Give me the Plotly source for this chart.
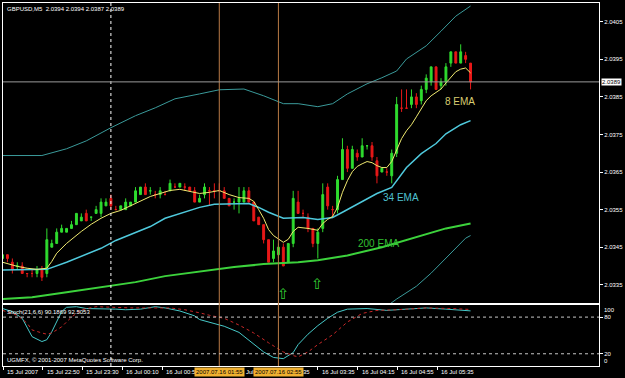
import plotly.graph_objects as go

# ---------------- data ----------------
bars = list(range(96))
open_ = [2.0342, 2.0343, 2.0341, 2.0340, 2.0340, 2.0338, 2.0338, 2.0338, 2.0339, 2.0338,
         2.0345, 2.0346, 2.0349, 2.0349, 2.0350, 2.0351, 2.0352, 2.0354, 2.0353, 2.0354,
         2.0354, 2.0356, 2.0358, 2.0355, 2.0355, 2.0355, 2.0356, 2.0357, 2.0359, 2.0361,
         2.0360, 2.0359, 2.0359, 2.0359, 2.0360, 2.0361, 2.0361, 2.0361, 2.0361, 2.0360,
         2.0357, 2.0359, 2.0360, 2.0360, 2.0360, 2.0360, 2.0358, 2.0357, 2.0357, 2.0357,
         2.0360, 2.0357, 2.0353, 2.0351, 2.0347, 2.0342, 2.0343, 2.0345, 2.0341, 2.0346,
         2.0357, 2.0354, 2.0353, 2.0350, 2.0346, 2.0350, 2.0361, 2.0355, 2.0355, 2.0363,
         2.0371, 2.0366, 2.0370, 2.0369, 2.0372, 2.0372, 2.0368, 2.0365, 2.0365, 2.0364,
         2.0370, 2.0382, 2.0382, 2.0383, 2.0385, 2.0384, 2.0387, 2.0389, 2.0393, 2.0388,
         2.0389, 2.0394, 2.0397, 2.0394, 2.0396, 2.0394]
high = [2.0344, 2.0343, 2.0342, 2.0341, 2.0341, 2.0338, 2.0339, 2.0340, 2.0340, 2.0350,
        2.0347, 2.0350, 2.0351, 2.0350, 2.0352, 2.0354, 2.0354, 2.0355, 2.0353, 2.0356,
        2.0358, 2.0358, 2.0359, 2.0356, 2.0356, 2.0358, 2.0357, 2.0361, 2.0361, 2.0362,
        2.0361, 2.0360, 2.0361, 2.0360, 2.0363, 2.0362, 2.0362, 2.0362, 2.0361, 2.0361,
        2.0359, 2.0362, 2.0361, 2.0362, 2.0362, 2.0361, 2.0358, 2.0358, 2.0361, 2.0361,
        2.0361, 2.0357, 2.0353, 2.0351, 2.0347, 2.0347, 2.0346, 2.0346, 2.0346, 2.0360,
        2.0360, 2.0355, 2.0354, 2.0350, 2.0350, 2.0362, 2.0362, 2.0356, 2.0364, 2.0374,
        2.0372, 2.0372, 2.0371, 2.0374, 2.0372, 2.0373, 2.0369, 2.0366, 2.0366, 2.0371,
        2.0385, 2.0387, 2.0387, 2.0387, 2.0386, 2.0388, 2.0391, 2.0393, 2.0393, 2.0390,
        2.0394, 2.0397, 2.0397, 2.0399, 2.0397, 2.0394]
low = [2.0341, 2.0341, 2.0338, 2.0339, 2.0338, 2.0337, 2.0337, 2.0337, 2.0336, 2.0337,
       2.0345, 2.0346, 2.0349, 2.0349, 2.0350, 2.0351, 2.0352, 2.0352, 2.0352, 2.0354,
       2.0353, 2.0356, 2.0355, 2.0355, 2.0355, 2.0355, 2.0356, 2.0357, 2.0359, 2.0359,
       2.0359, 2.0358, 2.0358, 2.0359, 2.0360, 2.0361, 2.0361, 2.0360, 2.0360, 2.0357,
       2.0357, 2.0358, 2.0356, 2.0358, 2.0360, 2.0358, 2.0356, 2.0355, 2.0354, 2.0357,
       2.0357, 2.0352, 2.0351, 2.0346, 2.0341, 2.0341, 2.0342, 2.0340, 2.0341, 2.0345,
       2.0354, 2.0353, 2.0349, 2.0345, 2.0342, 2.0349, 2.0355, 2.0353, 2.0354, 2.0363,
       2.0365, 2.0366, 2.0368, 2.0369, 2.0371, 2.0368, 2.0362, 2.0365, 2.0364, 2.0362,
       2.0369, 2.0381, 2.0382, 2.0382, 2.0382, 2.0383, 2.0386, 2.0388, 2.0387, 2.0387,
       2.0388, 2.0393, 2.0394, 2.0394, 2.0394, 2.0387]
close = [2.0343, 2.0342, 2.0339, 2.0340, 2.0338, 2.0338, 2.0338, 2.0339, 2.0337, 2.0347,
         2.0346, 2.0349, 2.0350, 2.0350, 2.0351, 2.0354, 2.0353, 2.0352, 2.0353, 2.0355,
         2.0357, 2.0357, 2.0356, 2.0355, 2.0356, 2.0357, 2.0357, 2.0360, 2.0361, 2.0359,
         2.0360, 2.0359, 2.0360, 2.0359, 2.0362, 2.0361, 2.0362, 2.0361, 2.0360, 2.0357,
         2.0358, 2.0361, 2.0360, 2.0360, 2.0360, 2.0358, 2.0356, 2.0357, 2.0358, 2.0360,
         2.0357, 2.0352, 2.0351, 2.0347, 2.0341, 2.0344, 2.0345, 2.0340, 2.0346, 2.0358,
         2.0354, 2.0354, 2.0350, 2.0346, 2.0349, 2.0359, 2.0356, 2.0355, 2.0363, 2.0371,
         2.0366, 2.0371, 2.0369, 2.0372, 2.0372, 2.0369, 2.0364, 2.0366, 2.0365, 2.0370,
         2.0383, 2.0382, 2.0382, 2.0385, 2.0383, 2.0387, 2.0390, 2.0393, 2.0387, 2.0389,
         2.0393, 2.0397, 2.0394, 2.0397, 2.0395, 2.0389]

ema8_x = [0, 3, 5, 7, 9, 10, 11, 13, 16, 18, 20, 22, 24, 26, 28, 30, 32, 34, 36, 38,
          40, 42, 44, 46, 48, 50, 51, 52, 53, 54, 55, 57, 58, 59, 60, 62, 64, 65, 66, 67,
          68, 69, 70, 71, 72, 73, 74, 75, 76, 77, 78, 79, 80, 81, 82, 83, 84, 85, 86, 87,
          88, 89, 90, 91, 92, 93, 94, 95]
ema8 = [2.03410, 2.03399, 2.03394, 2.03391, 2.03394, 2.03412, 2.03434, 2.03460, 2.03492, 2.03511,
        2.03527, 2.03540, 2.03548, 2.03561, 2.03574, 2.03585, 2.03593, 2.03601, 2.03604, 2.03598,
        2.03593, 2.03596, 2.03601, 2.03590, 2.03582, 2.03580, 2.03572, 2.03550, 2.03527, 2.03497,
        2.03481, 2.03463, 2.03471, 2.03492, 2.03503, 2.03500, 2.03495, 2.03513, 2.03524, 2.03532,
        2.03556, 2.03596, 2.03627, 2.03651, 2.03665, 2.03672, 2.03678, 2.03675, 2.03667, 2.03662,
        2.03662, 2.03678, 2.03707, 2.03739, 2.03760, 2.03776, 2.03797, 2.03818, 2.03840, 2.03853,
        2.03861, 2.03871, 2.03887, 2.03903, 2.03917, 2.03924, 2.03927, 2.03914]

ema34_x = [0, 4, 8, 9, 13, 16, 20, 23, 27, 30, 33, 37, 40, 43, 47, 50, 52, 54, 57, 59,
           61, 64, 67, 69, 72, 74, 76, 79, 80, 82, 85, 88, 90, 93, 95]
ema34 = [2.03389, 2.03389, 2.03389, 2.03391, 2.03410, 2.03426, 2.03447, 2.03468, 2.03489, 2.03505,
         2.03527, 2.03543, 2.03556, 2.03564, 2.03564, 2.03566, 2.03556, 2.03543, 2.03527, 2.03527,
         2.03529, 2.03524, 2.03529, 2.03543, 2.03564, 2.03580, 2.03593, 2.03609, 2.03627, 2.03662,
         2.03699, 2.03726, 2.03752, 2.03776, 2.03787]

ema200_x = [0, 6, 13, 20, 27, 33, 40, 47, 53, 60, 64, 70, 77, 84, 90, 95]
ema200 = [2.03312, 2.03317, 2.03330, 2.03344, 2.03357, 2.03373, 2.03386, 2.03397, 2.03405, 2.03410,
          2.03415, 2.03428, 2.03450, 2.03476, 2.03500, 2.03513]

bb_up_x = [0, 8, 13, 17, 22, 27, 31, 35, 40, 44, 49, 53, 57, 60, 64, 67, 70, 74, 77, 80,
           82, 86, 89, 92, 95]
bb_up = [2.03694, 2.03694, 2.03712, 2.03733, 2.03768, 2.03800, 2.03821, 2.03845, 2.03858, 2.03869,
         2.03871, 2.03853, 2.03832, 2.03832, 2.03824, 2.03832, 2.03858, 2.03885, 2.03901, 2.03919,
         2.03951, 2.03986, 2.04025, 2.04065, 2.04092]
bb_lo_x = [76, 78, 80, 84, 87, 90, 94, 95]
bb_lo = [2.03269, 2.03293, 2.03312, 2.03346, 2.03381, 2.03420, 2.03474, 2.03481]

stoch_x = [0, 2, 4, 5, 6, 8, 9, 10, 11, 12, 13, 15, 17, 20, 23, 25, 28, 31, 33, 36,
           39, 40, 42, 45, 48, 51, 53, 55, 57, 59, 60, 62, 64, 66, 68, 70, 74, 78, 82, 86,
           90, 95]
stoch_main = [94, 89, 78, 62, 48, 40, 43, 56, 72, 89, 96, 97, 94, 94, 93, 92, 93, 97, 95, 90,
              82, 76, 72, 65, 55, 35, 23, 14, 12, 22, 35, 52, 66, 78, 88, 93, 94, 91, 93, 95,
              93, 90.1869]
signal_x = [0, 3, 5, 6, 8, 9, 10, 12, 14, 16, 19, 22, 26, 30, 34, 37, 39, 40, 42, 45,
            48, 51, 54, 57, 59, 60, 62, 64, 67, 70, 73, 76, 80, 86, 91, 95]
stoch_signal = [91, 83, 70, 59, 54, 52, 54, 64, 80, 92, 97, 96, 95, 95, 95, 92, 89, 87, 83, 78,
                67, 54, 38, 23, 17, 15, 23, 35, 51, 72, 86, 91, 92, 95, 94, 92.5053]

time_pos = [0.15, 8.2, 16.2, 24.3, 32.4, 64.0, 72.1, 80.1, 88.2]
time_labels = ["15 Jul 2007", "15 Jul 22:50", "15 Jul 23:30", "16 Jul 00:10", "16 Jul 00:50",
               "16 Jul 03:35", "16 Jul 04:15", "16 Jul 04:55", "16 Jul 05:35"]
# fragments of the time labels that peek out from behind the highlighted boxes
frag_pos = [50.3, 61.7]
frag_labels = ["Jul", "35"]
price_ticks = [2.0335, 2.0345, 2.0355, 2.0365, 2.0375, 2.0385, 2.0395, 2.0405]
vline_pos = [44, 56]
vline_labels = ["2007.07.16 01:55", "2007.07.16 02:55"]
separator_pos = 22
arrow_x = [57, 64]
arrow_y = [2.03325, 2.03353]

# ---------------- figure ----------------
FONT = "Liberation Sans"
fig = go.Figure()
fig.add_trace(go.Scatter(x=bb_up_x, y=bb_up, mode="lines", line=dict(color="#3a9a9a", width=1),
                         showlegend=False, hoverinfo="skip"))
fig.add_trace(go.Scatter(x=bb_lo_x, y=bb_lo, mode="lines", line=dict(color="#3a9a9a", width=1),
                         showlegend=False, hoverinfo="skip"))
fig.add_trace(go.Scatter(x=ema200_x, y=ema200, mode="lines", line=dict(color="#3cd23c", width=2),
                         showlegend=False))
fig.add_trace(go.Scatter(x=ema34_x, y=ema34, mode="lines", line=dict(color="#4fc9dc", width=1.5),
                         showlegend=False))
fig.add_trace(go.Candlestick(
    x=bars, open=open_, high=high, low=low, close=close,
    increasing=dict(line=dict(color="#2fdc2f", width=1), fillcolor="#2fdc2f"),
    decreasing=dict(line=dict(color="#e81818", width=1), fillcolor="#e81818"),
    whiskerwidth=0, showlegend=False))
fig.add_trace(go.Scatter(x=ema8_x, y=ema8, mode="lines", line=dict(color="#f0ea70", width=1),
                         showlegend=False))
fig.add_trace(go.Scatter(x=stoch_x, y=stoch_main, mode="lines", line=dict(color="#46c8c8", width=1),
                         xaxis="x2", yaxis="y2", showlegend=False))
fig.add_trace(go.Scatter(x=signal_x, y=stoch_signal, mode="lines",
                         line=dict(color="#c82828", width=1, dash="dot"),
                         xaxis="x2", yaxis="y2", showlegend=False))

xr = [0.1, 121.07]
axis_common = dict(showgrid=False, zeroline=False, showline=True, mirror=True,
                   linecolor="#ffffff", linewidth=1)
fig.update_layout(
    width=625, height=378,
    margin=dict(l=2, r=23, t=2, b=12),
    paper_bgcolor="#000000", plot_bgcolor="#000000",
    boxgap=0.45,
    font=dict(family=FONT, color="#ffffff", size=6),
    xaxis=dict(domain=[0, 1], range=xr, anchor="y", showticklabels=False, ticks="",
               rangeslider=dict(visible=False), **axis_common),
    yaxis=dict(domain=[0.17308, 1], range=[2.03301, 2.04100], side="right", anchor="x",
               tickvals=price_ticks, tickformat=".4f", ticks="outside", ticklen=3,
               tickcolor="#ffffff", tickfont=dict(size=6, color="#ffffff", family=FONT),
               **axis_common),
    xaxis2=dict(domain=[0, 1], range=xr, anchor="y2", matches="x", showticklabels=False,
                tickvals=time_pos, ticks="outside", ticklen=3, tickcolor="#ffffff",
                **axis_common),
    yaxis2=dict(domain=[0, 0.1684], range=[0, 100], side="right", anchor="x2",
                tickvals=[20, 80], ticktext=["20", "80"], ticks="outside", ticklen=3,
                tickcolor="#ffffff", tickfont=dict(size=6, color="#ffffff", family=FONT),
                **axis_common),
)

shapes = []
shapes.append(dict(type="line", xref="x", yref="paper", x0=separator_pos, x1=separator_pos,
                   y0=0, y1=1, line=dict(color="#ffffff", width=1, dash="dot")))
for v in vline_pos:
    shapes.append(dict(type="line", xref="x", yref="paper", x0=v, x1=v, y0=0, y1=1,
                       line=dict(color="#b97a45", width=1)))
shapes.append(dict(type="line", xref="paper", yref="y", x0=0, x1=1, y0=close[-1], y1=close[-1],
                   line=dict(color="#9a9a9a", width=1)))
for lv in [20, 80]:
    shapes.append(dict(type="line", xref="paper", yref="y2", x0=0, x1=1, y0=lv, y1=lv,
                       line=dict(color="#c8c8c8", width=1, dash="dot")))
fig.update_layout(shapes=shapes)

ann = []
ann.append(dict(text="GBPUSD,M5  2.0394 2.0394 2.0387 2.0389", xref="paper", yref="paper",
                x=0, y=1, xanchor="left", yanchor="top", xshift=2, yshift=-1,
                showarrow=False, font=dict(size=6, color="#ffffff")))
ann.append(dict(text="Stoch(21,6,6) %.4f %.4f" % (stoch_main[-1], stoch_signal[-1]),
                xref="paper", yref="y2", x=0, y=100, xanchor="left", yanchor="top",
                xshift=2, yshift=-2, showarrow=False, font=dict(size=6, color="#ffffff")))
ann.append(dict(text="UGMFX, © 2001-2007 MetaQuotes Software Corp.", xref="paper", yref="paper",
                x=0, y=0, xanchor="left", yanchor="bottom", xshift=2, yshift=1,
                showarrow=False, font=dict(size=6, color="#ffffff")))
for p, t in zip(time_pos, time_labels):
    ann.append(dict(text=t, xref="x", yref="paper", x=p, y=0, xanchor="left", yanchor="top",
                    xshift=2, yshift=-1, showarrow=False, font=dict(size=6, color="#ffffff")))
for p, t in zip(frag_pos, frag_labels):
    ann.append(dict(text=t, xref="x", yref="paper", x=p, y=0, xanchor="center", yanchor="top",
                    yshift=-1, showarrow=False, font=dict(size=6, color="#ffffff")))
for v, t in zip(vline_pos, vline_labels):
    ann.append(dict(text=t, xref="x", yref="paper", x=v, y=0, xanchor="center", yanchor="top",
                    yshift=-1, showarrow=False, bgcolor="#f0b030", borderpad=1,
                    font=dict(size=6, color="#000000")))
ann.append(dict(text="%.4f" % close[-1], xref="paper", yref="y", x=1, y=close[-1],
                xanchor="left", yanchor="middle", xshift=2, showarrow=False,
                bgcolor="#ffffff", borderpad=0, font=dict(size=6, color="#000000")))
ann.append(dict(text="100", xref="paper", yref="y2", x=1, y=100, xanchor="left", yanchor="top",
                xshift=3, showarrow=False, font=dict(size=6, color="#ffffff")))
ann.append(dict(text="0", xref="paper", yref="y2", x=1, y=0, xanchor="left", yanchor="bottom",
                xshift=3, showarrow=False, font=dict(size=6, color="#ffffff")))
ann.append(dict(text="8 EMA", xref="x", yref="y", x=92.8, y=2.03837, showarrow=False,
                font=dict(size=10, color="#d8cc70")))
ann.append(dict(text="34 EMA", xref="x", yref="y", x=80.9, y=2.03583, showarrow=False,
                font=dict(size=10, color="#4fc0d0")))
ann.append(dict(text="200 EMA", xref="x", yref="y", x=76.4, y=2.03461, showarrow=False,
                font=dict(size=10, color="#33c033")))
for ax_, ay_ in zip(arrow_x, arrow_y):
    ann.append(dict(text="⇧", xref="x", yref="y", x=ax_, y=ay_, showarrow=False,
                    font=dict(size=15, color="#33cc33", family="DejaVu Sans")))
fig.update_layout(annotations=ann)

fig.write_html("out.html")
